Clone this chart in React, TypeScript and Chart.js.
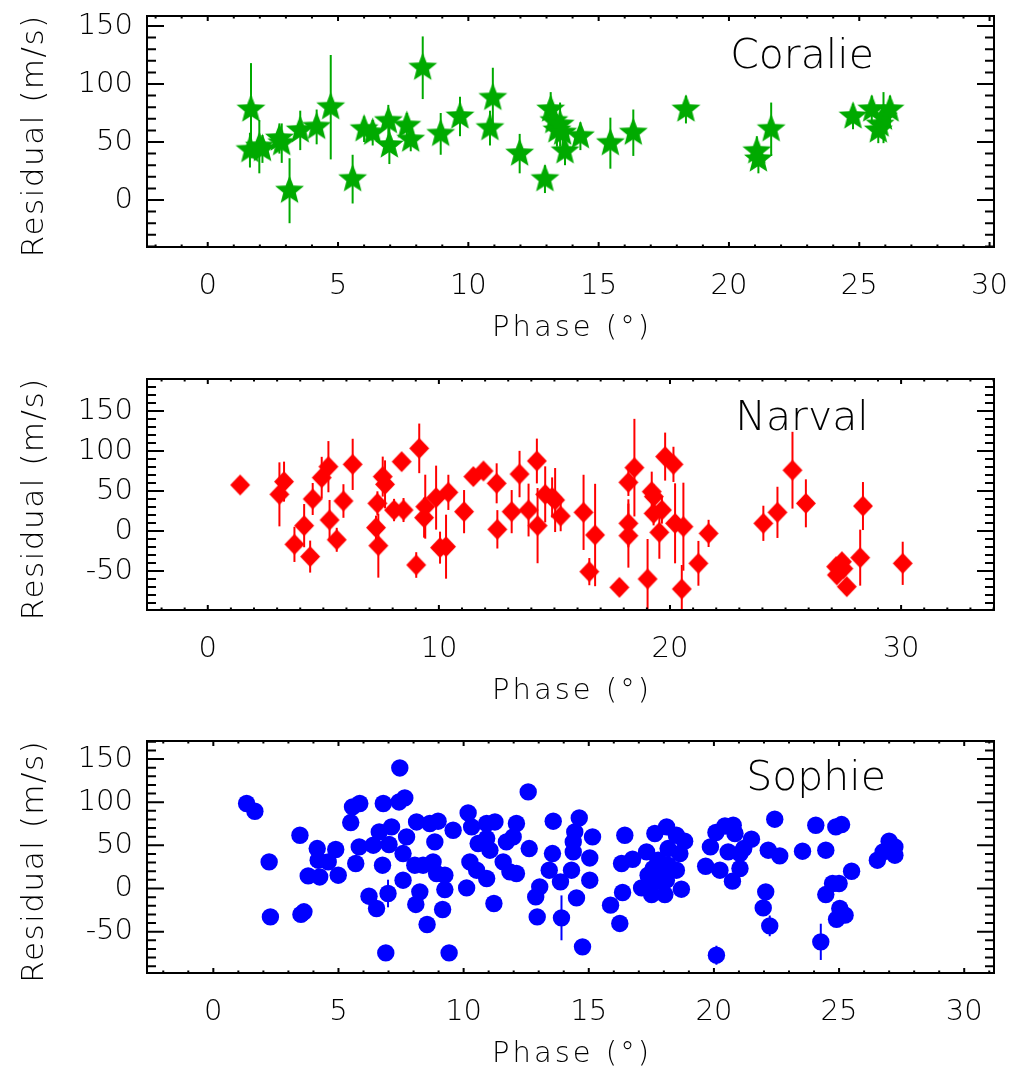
import React, { useEffect, useRef } from 'react';
import { Chart, registerables } from 'chart.js';

Chart.register(...registerables);

// ---------------- DATA ----------------
const coralieX = [1.66, 1.62, 1.98, 2.10, 2.75, 2.84, 3.14, 3.55, 4.18, 4.72, 5.56, 6.00, 6.33, 6.93, 6.97, 7.64, 7.79, 8.25, 8.94, 9.68, 10.83, 10.94, 11.97, 12.94, 13.16, 13.28, 13.40, 13.52, 13.62, 13.71, 14.30, 15.45, 16.33, 18.35, 21.07, 21.13, 21.62, 24.76, 25.48, 25.73, 25.80, 25.93, 26.18];
const coralieY = [78, 43, 46, 44, 53, 49, 8, 60, 63, 80, 18, 61, 58, 68, 47, 64, 52, 114, 57, 72, 62, 88, 40, 18, 78, 68, 60, 65, 58, 42, 55, 49, 58, 78, 42, 35, 61, 72, 78, 60, 65, 71, 78];
const coralieErr = [40, 15, 23, 12, 13, 17, 28, 17, 15, 45, 21, 11, 11, 14, 16, 11, 10, 27, 18, 17, 15, 26, 17, 12, 15, 12, 14, 19, 12, 12, 12, 22, 20, 12, 13, 12, 23, 11, 12, 11, 10, 22, 12];

const narvalX = [1.40, 3.10, 3.30, 3.75, 4.17, 4.43, 4.54, 4.93, 5.22, 5.27, 5.58, 5.87, 6.27, 7.28, 7.34, 7.38, 7.57, 7.67, 8.06, 8.39, 8.47, 9.02, 9.15, 9.36, 9.41, 9.88, 10.05, 10.31, 10.41, 11.09, 11.49, 11.93, 12.50, 12.53, 13.15, 13.49, 13.88, 14.24, 14.27, 14.60, 14.90, 15.03, 15.27, 16.26, 16.51, 16.76, 17.81, 18.20, 18.20, 18.20, 18.46, 19.03, 19.21, 19.30, 19.29, 19.54, 19.65, 19.79, 20.15, 20.22, 20.51, 20.58, 21.23, 21.67, 24.04, 24.65, 25.30, 25.88, 27.19, 27.22, 27.44, 27.50, 27.65, 28.23, 28.35, 30.07];
const narvalY = [57.5, 45.8, 61.7, -16.7, 6.7, -32, 40, 66.7, 80.4, 13.8, -11, 37.5, 83.3, 4.2, 34.6, -18.3, 68, 58.3, 26.2, 86.7, 26.2, -42.5, 103.3, 16.7, 30.4, 41.7, -20.8, -19.6, 48.3, 24.2, 68, 75, 59.6, 2.1, 24.2, 71.2, 26.2, 87.5, 6.7, 45.8, 42, 38.7, 18.7, 23.3, -50.8, -5, -70.4, 60.8, 9.6, -5.8, 79.2, -60, 49.2, 43, 22, -1.7, 26.2, 93, 83.3, 9.6, -72.5, 5.4, -40.4, -3, 9.6, 23.3, 76, 34.6, -44.6, -55, -38.4, -47, -69.6, -33.3, 31.2, -40.4];
const narvalErr = [10, 40, 25, 22, 27, 20, 20, 26, 32, 25, 15, 21, 32, 15, 15, 40, 25, 30, 14, 8, 15, 16, 31, 25, 40, 40, 20, 40, 22, 27, 6, 6, 25, 24, 27, 29, 33, 28, 47, 35, 25, 40, 19, 47, 17, 64, 5, 17, 30, 40, 61, 50, 25, 15, 15, 33, 17, 30, 22, 50, 30, 55, 28, 17, 22, 32, 48, 30, 10, 10, 10, 10, 10, 35, 30, 27];

const sophieX = [1.33, 1.66, 2.23, 2.28, 3.46, 3.50, 3.62, 3.79, 4.15, 4.19, 4.25, 4.59, 4.89, 4.99, 5.49, 5.56, 5.69, 5.83, 5.85, 6.22, 6.39, 6.52, 6.63, 6.76, 6.79, 6.89, 6.98, 7.02, 7.12, 7.42, 7.45, 7.58, 7.58, 7.65, 7.72, 8.05, 8.09, 8.12, 8.25, 8.38, 8.54, 8.65, 8.78, 8.85, 8.92, 8.98, 9.16, 9.25, 9.25, 9.42, 9.58, 10.12, 10.18, 10.25, 10.32, 10.52, 10.58, 10.92, 10.92, 10.92, 11.05, 11.21, 11.25, 11.58, 11.71, 11.85, 11.98, 12.11, 12.11, 12.58, 12.62, 12.88, 12.94, 13.04, 13.42, 13.55, 13.58, 13.87, 13.91, 14.31, 14.38, 14.38, 14.44, 14.51, 14.62, 14.75, 15.04, 15.04, 15.15, 15.87, 16.24, 16.31, 16.35, 16.44, 16.75, 17.11, 17.31, 17.37, 17.51, 17.57, 17.64, 17.64, 17.77, 17.84, 18.04, 18.10, 18.11, 18.17, 18.17, 18.50, 18.50, 18.64, 18.70, 18.83, 19.67, 19.86, 20.08, 20.10, 20.24, 20.44, 20.57, 20.74, 20.77, 20.84, 21.04, 21.04, 21.19, 21.50, 21.97, 22.07, 22.17, 22.23, 22.43, 22.63, 23.54, 24.07, 24.27, 24.47, 24.47, 24.74, 24.87, 24.90, 25.00, 25.03, 25.10, 25.24, 25.50, 26.53, 26.76, 27.00, 27.23, 27.23];
const sophieY = [98.5, 89.5, 30.8, -32.9, 61.7, -30, -27, 14.6, 46.3, 32.8, 13.4, 30.8, 45.2, 15.4, 76.4, 94.5, 29, 48.2, 98.5, -8.9, 50.2, -23.2, 65.6, 27, 98.5, -74.6, -5.8, 51, 71.4, 100.3, 139.7, 40.5, 9.6, 105, 59.8, 27, -18.5, 77.1, -3.9, 27, -41.7, 75.3, 30.8, 54, 17.4, 78, -24.3, 15.4, -1.2, -74.6, 67.5, 0.7, 87.6, 30.8, 71.4, 21.2, 52.1, 75.3, 58, 11.6, 44.4, -17.4, 77.1, 30.8, 54, 19.3, 59.8, 75.3, 17.4, 111.9, 46.3, -9.7, -32.9, 1.9, 21.2, 40.5, 78, 7.7, -34, 21.2, 54, 42.4, 65.6, -10.9, 81.8, -67.6, 35.4, 9.6, 59.8, -19.3, -40.5, 29, -4.6, 61.7, 33.9, 0.7, 42.4, 15.4, -7, 23, 63.7, 7.7, 32.8, 15.4, -7, 9.6, 71.4, 46.3, 27, 61.7, 21.2, 40.5, -0.8, 54.8, 25.8, 48.2, 64.9, -77.3, 21.2, 72.5, 42.4, 8.5, 73.3, 63.7, 40.5, 23.2, 46.3, 57.1, -22.5, -3.9, 44.4, -43.3, 80.3, 37.8, 43.2, 73.3, -61.8, 44.4, -7, 5.8, 71.4, -35.6, 5.8, -23.2, 74.1, -30.9, 20, 32.8, 42.4, 54.8, 48.2, 38.6];
const sophieErr = [5, 5, 5, 5, 5, 5, 5, 5, 5, 5, 5, 5, 5, 5, 5, 5, 5, 5, 5, 5, 5, 5, 5, 5, 5, 5, 16, 5, 5, 5, 5, 5, 5, 5, 5, 5, 5, 5, 5, 5, 5, 5, 5, 5, 5, 5, 5, 5, 5, 5, 5, 5, 5, 5, 5, 5, 5, 5, 5, 5, 5, 5, 5, 5, 5, 5, 5, 5, 5, 5, 5, 5, 5, 5, 5, 5, 5, 5, 26, 5, 5, 5, 5, 5, 5, 5, 5, 5, 5, 5, 5, 5, 5, 5, 5, 5, 5, 5, 5, 5, 5, 5, 5, 5, 5, 5, 5, 5, 5, 5, 5, 5, 5, 5, 5, 5, 5, 11, 5, 5, 5, 5, 5, 5, 5, 5, 5, 5, 5, 5, 5, 12, 5, 5, 5, 5, 21, 5, 5, 5, 5, 5, 5, 5, 5, 5, 5, 5, 5, 5, 5, 5];

const instrumentNames = ['Coralie', 'Narval', 'Sophie'];
const xTitle = 'Phase (°)';
const yTitle = 'Residual (m/s)';

// ---------------- STYLE / LAYOUT ----------------
const FONT = "'DejaVu Sans', sans-serif";
const FW = '200';
const W = 1011;

function makeStar(color: string, R: number, r: number) {
  const size = Math.ceil(2 * R + 2);
  const c = document.createElement('canvas');
  c.width = size;
  c.height = size;
  const ctx = c.getContext('2d')!;
  ctx.translate(size / 2, size / 2);
  ctx.beginPath();
  for (let i = 0; i < 10; i++) {
    const rad = i % 2 === 0 ? R : r;
    const a = -Math.PI / 2 + (i * Math.PI) / 5;
    const px = rad * Math.cos(a);
    const py = rad * Math.sin(a);
    if (i === 0) ctx.moveTo(px, py);
    else ctx.lineTo(px, py);
  }
  ctx.closePath();
  ctx.fillStyle = color;
  ctx.fill();
  return c;
}

function makeDiamond(color: string, hw: number, hh: number) {
  const wd = Math.ceil(2 * hw + 2);
  const ht = Math.ceil(2 * hh + 2);
  const c = document.createElement('canvas');
  c.width = wd;
  c.height = ht;
  const ctx = c.getContext('2d')!;
  ctx.translate(wd / 2, ht / 2);
  ctx.beginPath();
  ctx.moveTo(0, -hh);
  ctx.lineTo(hw, 0);
  ctx.lineTo(0, hh);
  ctx.lineTo(-hw, 0);
  ctx.closePath();
  ctx.fillStyle = color;
  ctx.fill();
  return c;
}

type PanelCfg = {
  name: string;
  xs: number[];
  ys: number[];
  errs: number[];
  color: string;
  marker: 'star' | 'diamond' | 'circle';
  xMin: number;
  xMax: number;
  yMin: number;
  yMax: number;
  xMajor: number;
  yMajor: number;
  top: number;
  height: number;
  padTop: number;
  plotBottom: number;
  labelCx: number;
  labelDy: number;
};

const panels: PanelCfg[] = [
  {
    name: instrumentNames[0], xs: coralieX, ys: coralieY, errs: coralieErr, color: '#00AA00', marker: 'star',
    xMin: -2.33, xMax: 30.17, yMin: -40.5, yMax: 158.6, xMajor: 5, yMajor: 50,
    top: 0, height: 362, padTop: 16, plotBottom: 247, labelCx: 802, labelDy: 52,
  },
  {
    name: instrumentNames[1], xs: narvalX, ys: narvalY, errs: narvalErr, color: '#FF0000', marker: 'diamond',
    xMin: -2.63, xMax: 34.02, yMin: -98.75, yMax: 190, xMajor: 10, yMajor: 50,
    top: 362, height: 362, padTop: 17, plotBottom: 248, labelCx: 802, labelDy: 51,
  },
  {
    name: instrumentNames[2], xs: sophieX, ys: sophieY, errs: sophieErr, color: '#0000FF', marker: 'circle',
    xMin: -2.65, xMax: 31.19, yMin: -97.9, yMax: 170.9, xMajor: 5, yMajor: 50,
    top: 724, height: 349, padTop: 17, plotBottom: 249, labelCx: 816, labelDy: 49,
  },
];

function multiples(min: number, max: number, step: number) {
  const out: { value: number }[] = [];
  const k0 = Math.ceil(min / step - 1e-9);
  const k1 = Math.floor(max / step + 1e-9);
  for (let k = k0; k <= k1; k++) out.push({ value: k * step });
  return out;
}

function drawTicks(ctx: CanvasRenderingContext2D, scale: any, step: number, isX: boolean, a: any, majorStep: number, majLen: number, minLen: number) {
  multiples(scale.min, scale.max, step).forEach(({ value: v }) => {
    const r = v / majorStep;
    const isMaj = Math.abs(r - Math.round(r)) < 1e-6;
    const len = isMaj ? majLen : minLen;
    const p = scale.getPixelForValue(v);
    ctx.beginPath();
    if (isX) {
      ctx.moveTo(p, a.bottom);
      ctx.lineTo(p, a.bottom - len);
      ctx.moveTo(p, a.top);
      ctx.lineTo(p, a.top + len);
    } else {
      ctx.moveTo(a.left, p);
      ctx.lineTo(a.left + len, p);
      ctx.moveTo(a.right, p);
      ctx.lineTo(a.right - len, p);
    }
    ctx.stroke();
  });
}

function makeDecor(cfg: PanelCfg) {
  return {
    id: 'decor',
    beforeDatasetsDraw(chart: any) {
      const { ctx, chartArea: a } = chart;
      const xs = chart.scales.x;
      const ys = chart.scales.y;
      ctx.save();
      ctx.beginPath();
      ctx.rect(a.left, a.top, a.right - a.left, a.bottom - a.top);
      ctx.clip();
      ctx.strokeStyle = cfg.color;
      ctx.lineWidth = 2;
      chart.data.datasets.forEach((ds: any) => {
        ds.data.forEach((pt: any, i: number) => {
          const e = ds.errors[i];
          const px = xs.getPixelForValue(pt.x);
          ctx.beginPath();
          ctx.moveTo(px, ys.getPixelForValue(pt.y - e));
          ctx.lineTo(px, ys.getPixelForValue(pt.y + e));
          ctx.stroke();
        });
      });
      ctx.restore();
    },
    afterDraw(chart: any) {
      const { ctx, chartArea: a } = chart;
      const xs = chart.scales.x;
      const ys = chart.scales.y;
      ctx.save();
      ctx.strokeStyle = '#000';
      ctx.lineWidth = 2;
      ctx.lineCap = 'butt';
      ctx.strokeRect(a.left, a.top, a.right - a.left, a.bottom - a.top);
      drawTicks(ctx, xs, 1, true, a, cfg.xMajor, 5, 2.5);
      drawTicks(ctx, ys, 10, false, a, cfg.yMajor, 17, 9);

      ctx.fillStyle = '#000';
      // x title
      ctx.font = `${FW} 29px ${FONT}`;
      (ctx as any).letterSpacing = '3px';
      ctx.textAlign = 'left';
      ctx.textBaseline = 'alphabetic';
      let w = ctx.measureText(xTitle).width - 3;
      ctx.fillText(xTitle, (a.left + a.right) / 2 - w / 2, a.bottom + 89);
      // y title
      ctx.font = `${FW} 31px ${FONT}`;
      (ctx as any).letterSpacing = '1.5px';
      w = ctx.measureText(yTitle).width - 1.5;
      ctx.save();
      ctx.translate(43, (a.top + a.bottom) / 2 + 5);
      ctx.rotate(-Math.PI / 2);
      ctx.fillText(yTitle, -w / 2, 0);
      ctx.restore();
      // instrument label
      (ctx as any).letterSpacing = '0px';
      ctx.font = `${FW} 41px ${FONT}`;
      ctx.textAlign = 'center';
      ctx.fillText(cfg.name, cfg.labelCx, a.top + cfg.labelDy);
      ctx.restore();
    },
  };
}

function Panel({ cfg }: { cfg: PanelCfg }) {
  const ref = useRef<HTMLCanvasElement>(null);
  useEffect(() => {
    const canvas = ref.current!;
    let pointStyle: any = 'circle';
    let radius = 8.7;
    if (cfg.marker === 'star') {
      pointStyle = makeStar(cfg.color, 15.2, 6.6);
      radius = 15;
    } else if (cfg.marker === 'diamond') {
      pointStyle = makeDiamond(cfg.color, 10, 10.5);
      radius = 10;
    }
    const data = cfg.xs.map((x, i) => ({ x, y: cfg.ys[i] }));
    const tickFont = { family: FONT, size: 29, weight: FW };
    const zeroPad = (s: any) => {
      s.paddingTop = 0;
      s.paddingBottom = 0;
      s.paddingLeft = 0;
      s.paddingRight = 0;
    };
    const chart = new Chart(canvas, {
      type: 'scatter',
      data: {
        datasets: [
          {
            data,
            pointStyle,
            pointRadius: radius,
            pointHoverRadius: radius,
            backgroundColor: cfg.color,
            borderColor: cfg.color,
            pointBorderWidth: 0,
            errors: cfg.errs,
          } as any,
        ],
      },
      options: {
        responsive: false,
        animation: false,
        events: [],
        layout: { padding: { top: cfg.padTop, right: W - 994, left: 0, bottom: 0 } },
        plugins: { legend: { display: false }, tooltip: { enabled: false } },
        scales: {
          x: {
            type: 'linear',
            min: cfg.xMin,
            max: cfg.xMax,
            grid: { display: false, drawTicks: false },
            border: { display: false },
            afterBuildTicks: (s: any) => {
              s.ticks = multiples(cfg.xMin, cfg.xMax, cfg.xMajor);
            },
            ticks: {
              autoSkip: false,
              maxRotation: 0,
              color: '#000',
              font: tickFont,
              padding: 22,
              callback: (v: any) => String(v),
            },
            afterFit: (s: any) => {
              s.height = cfg.height - cfg.plotBottom;
              zeroPad(s);
            },
          },
          y: {
            type: 'linear',
            min: cfg.yMin,
            max: cfg.yMax,
            grid: { display: false, drawTicks: false },
            border: { display: false },
            afterBuildTicks: (s: any) => {
              s.ticks = multiples(cfg.yMin, cfg.yMax, cfg.yMajor);
            },
            ticks: {
              autoSkip: false,
              color: '#000',
              font: tickFont,
              padding: 14,
              callback: (v: any) => String(v),
            },
            afterFit: (s: any) => {
              s.width = 147;
              zeroPad(s);
            },
          },
        },
      } as any,
      plugins: [makeDecor(cfg) as any],
    });
    return () => chart.destroy();
  }, [cfg]);
  return (
    <canvas
      ref={ref}
      width={W}
      height={cfg.height}
      style={{ position: 'absolute', left: 0, top: cfg.top, width: W, height: cfg.height, display: 'block' }}
    />
  );
}

export default function App() {
  return (
    <div style={{ position: 'absolute', left: 0, top: 0, width: W, height: 1073, background: '#fff', overflow: 'hidden' }}>
      {panels.map((p) => (
        <Panel key={p.name} cfg={p} />
      ))}
    </div>
  );
}
